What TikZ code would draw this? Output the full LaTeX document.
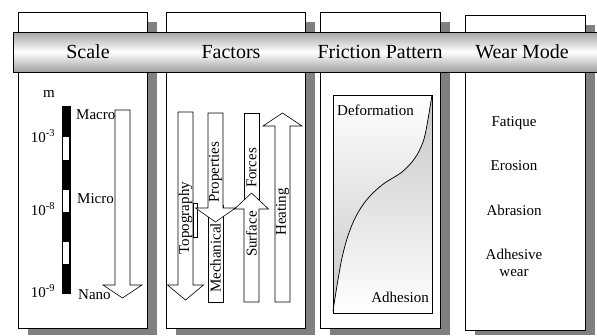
\documentclass[tikz,border=0pt]{standalone}
\usepackage{fontspec}
\setmainfont{Liberation Serif}
\newfontfamily\headfont{Liberation Serif}
\usepackage{tikz}

\begin{document}
\begin{tikzpicture}[x=1pt, y=-1pt,
  shadowbox/.style={fill=gray},
  panel/.style={draw=black, fill=white, line width=0.6pt},
  arrowbox/.style={draw=black, fill=white, line width=0.6pt},
  headtext/.style={font=\headfont\fontsize{20}{22}\selectfont},
  lbl/.style={font=\rmfamily\fontsize{15}{17}\selectfont, inner sep=0pt},
  vlbl/.style={font=\rmfamily\fontsize{15}{17}\selectfont, inner sep=0pt, rotate=90}]
  \useasboundingbox (0,0) rectangle (597,335);
  % panels with shadows
  \fill[shadowbox] (28,22) rectangle (157,335);
  \draw[panel] (18,12) rectangle (147,328);
  \fill[shadowbox] (176,22) rectangle (315,335);
  \draw[panel] (166,12) rectangle (305,328);
  \fill[shadowbox] (330,22) rectangle (450,335);
  \draw[panel] (320,12) rectangle (440,328);
  \fill[shadowbox] (475,25) rectangle (595,335);
  \draw[panel] (465,15) rectangle (585,330);
  % title band
  \draw[black, line width=0.6pt, top color=gray!70, bottom color=gray!75, middle color=white] (13,32) rectangle (597,72);
  \node[headtext] (scale) at (88,52) {Scale};
  \node[headtext] (factors) at (231,52) {Factors};
  \node[headtext] (friction) at (380,52) {Friction Pattern};
  \node[headtext] (wear) at (522,52) {Wear Mode};
  % scale bar
  \draw[fill=black] (62,106) rectangle (70,293);
  \foreach \ya/\yb in {137/160, 190/212, 242/264}
    \fill[white] (63,\ya) rectangle (69,\yb);
  \node[lbl] (unit) at (49,94) {m};
  \node[lbl] (e3) at (43,136) {10\textsuperscript{-3}};
  \node[lbl] (e8) at (43,209) {10\textsuperscript{-8}};
  \node[lbl] (e9) at (43,291) {10\textsuperscript{-9}};
  \node[lbl, anchor=west] (macro) at (76,115) {Macro};
  \node[lbl, anchor=west] (micro) at (77,199) {Micro};
  \node[lbl, anchor=west] (nano) at (78,295) {Nano};
  \draw[arrowbox] (115,110) -- (130,110) -- (130,285) -- (142,285) -- (122.5,298) -- (103,285) -- (115,285) -- cycle;
  % factors
  \draw[arrowbox] (178,112) -- (193,112) -- (193,285) -- (203.5,285) -- (185.5,300) -- (167.5,285) -- (178,285) -- cycle;
  \draw[arrowbox] (193,203) rectangle (197,237);
  \draw[arrowbox] (208,205) rectangle (223,302);
  \draw[arrowbox] (208,113) -- (223,113) -- (223,208) -- (235.5,208) -- (215.5,222) -- (195.5,208) -- (208,208) -- cycle;
  \draw[arrowbox] (244,113) rectangle (259,200);
  \draw[arrowbox] (244,302) -- (259,302) -- (259,209) -- (268.5,209) -- (251.5,193) -- (234.5,209) -- (244,209) -- cycle;
  \draw[arrowbox] (275,302) -- (290,302) -- (290,126) -- (302,126) -- (282.5,113) -- (263,126) -- (275,126) -- cycle;
  \node[vlbl] (topo) at (185.5,218) {Topography};
  \node[vlbl] (prop) at (215.5,172) {Properties};
  \node[vlbl] (mech) at (215.5,258) {Mechanical};
  \node[vlbl] (forces) at (251.5,168) {Forces};
  \node[vlbl] (surf) at (251.5,234) {Surface};
  \node[vlbl] (heat) at (282.5,212) {Heating};
  % friction pattern
  \fill[top color=white, bottom color=gray!45] (333,95) rectangle (432,313);
  \fill[top color=gray!45, bottom color=white] plot[smooth, tension=0.6] coordinates {(333,311) (342,258) (352,225) (365,202) (382,185) (402,172) (415,158) (423,142) (427,125) (432,95)} -- (432,313) -- (333,313) -- cycle;
  \draw[black, line width=0.6pt] (333,95) rectangle (432,313);
  \draw[black, line width=0.7pt] plot[smooth, tension=0.6] coordinates {(333,311) (342,258) (352,225) (365,202) (382,185) (402,172) (415,158) (423,142) (427,125) (432,95)};
  \node[lbl, anchor=west] (deform) at (337,110) {Deformation};
  \node[lbl, anchor=east] (adhes) at (429,297) {Adhesion};
  % wear mode
  \node[lbl] (fat) at (514,123) {Fatique};
  \node[lbl] (ero) at (514,166) {Erosion};
  \node[lbl] (abr) at (514,210) {Abrasion};
  \node[lbl, align=center] (adw) at (514,263) {Adhesive\\wear};
\end{tikzpicture}
\end{document}
